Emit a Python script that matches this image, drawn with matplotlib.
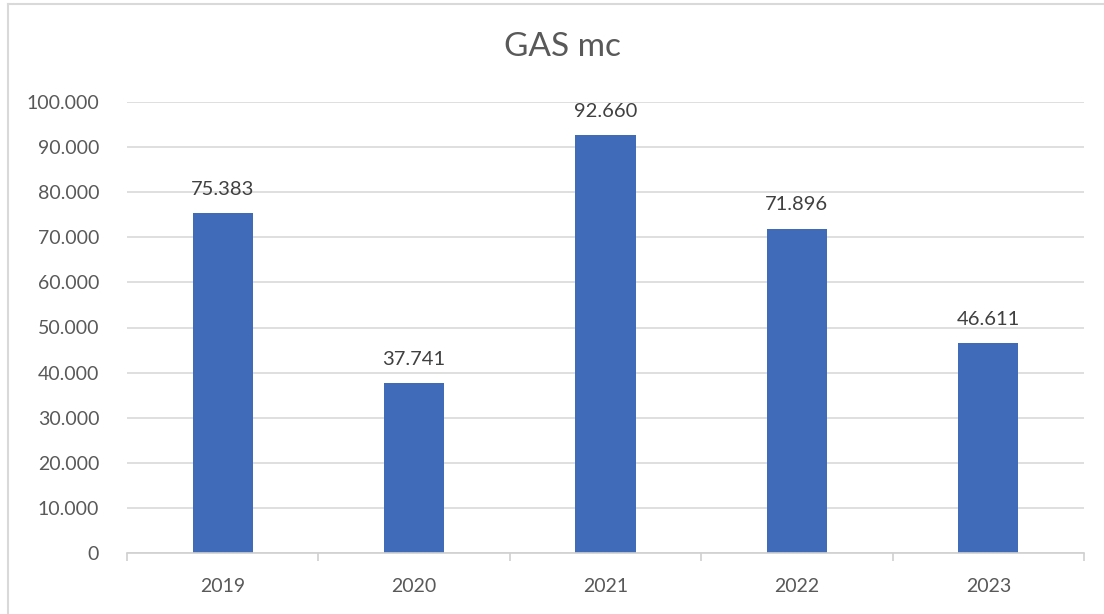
import matplotlib
matplotlib.use("Agg")
import matplotlib.pyplot as plt
from matplotlib.lines import Line2D
from matplotlib.ticker import FuncFormatter, FixedLocator

categories = ["2019", "2020", "2021", "2022", "2023"]
values = [75383, 37741, 92660, 71896, 46611]
title = "GAS mc"

plt.rcParams['font.family'] = ['Lato', 'DejaVu Sans']

def it_fmt(v, pos=None):
    return f"{int(round(v)):,}".replace(",", ".")

fig = plt.figure(figsize=(11.04, 6.14), dpi=100)
W, H = 1104, 614
ax = fig.add_axes([127 / W, 1 - 553 / H, (1084 - 127) / W, (553 - 102) / H])

x = list(range(len(categories)))
bars = ax.bar(x, values, width=0.315, color="#3F6BB8", zorder=3)

ax.set_xlim(-0.5, len(categories) - 0.5)
ax.set_ylim(0, 100000)
ax.set_yticks(range(0, 100001, 10000))
ax.yaxis.set_major_formatter(FuncFormatter(it_fmt))
ax.grid(axis="y", color="#D9D9D9", linewidth=1.2, zorder=0)
ax.set_axisbelow(True)

for s in ["top", "right", "left"]:
    ax.spines[s].set_visible(False)
ax.spines["bottom"].set_color("#D0D0D0")
ax.spines["bottom"].set_linewidth(1.2)
ax.spines["bottom"].set_zorder(4)

ax.set_xticks(x)
ax.set_xticklabels(categories)
ax.xaxis.set_minor_locator(FixedLocator([i - 0.5 for i in range(len(categories) + 1)]))
ax.tick_params(axis="x", which="major", length=0, pad=18, labelsize=14, labelcolor="#595959")
ax.tick_params(axis="x", which="minor", length=6, width=1.2, color="#D0D0D0")
ax.tick_params(axis="y", length=0, pad=20, labelsize=14, labelcolor="#595959")

for xi, v in zip(x, values):
    ax.annotate(it_fmt(v), (xi, v), xytext=(0, 11), textcoords="offset points",
                ha="center", va="bottom", fontsize=14.5, color="#404040")

fig.text(562 / W, 1 - 47 / H, title, ha="center", va="center", fontsize=24, color="#595959")

fig.add_artist(Line2D([8 / W, 8 / W], [0, 1 - 3.5 / H], transform=fig.transFigure, color="#D9D9D9", linewidth=1.5))
fig.add_artist(Line2D([8 / W, 1], [1 - 3.5 / H, 1 - 3.5 / H], transform=fig.transFigure, color="#D9D9D9", linewidth=1.5))

fig.savefig("out.png", dpi=100)
